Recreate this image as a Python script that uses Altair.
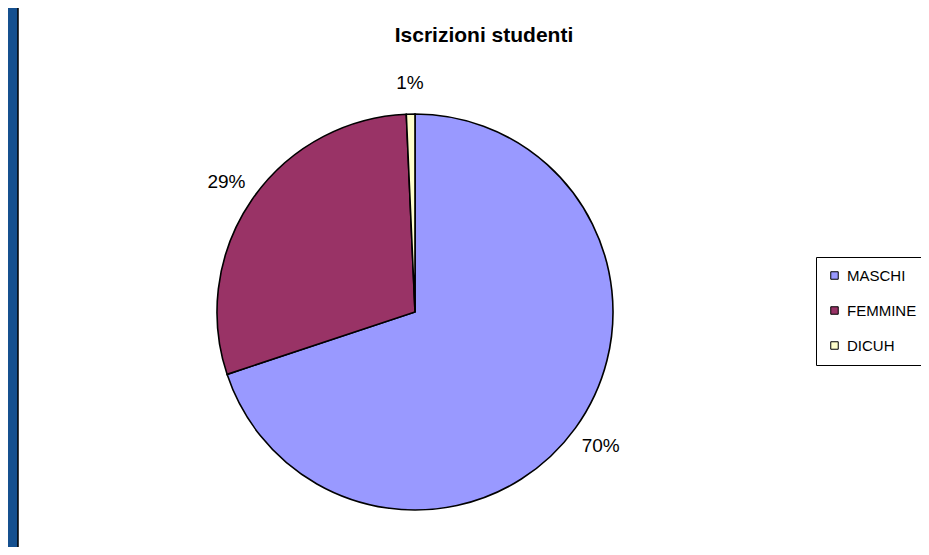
import altair as alt
import pandas as pd

categories = ["MASCHI", "FEMMINE", "DICUH"]
shares = [0.699, 0.294, 0.007]
colors = ["#9999FF", "#993366", "#FFFFCC"]
title_text = "Iscrizioni studenti"

df = pd.DataFrame({"category": categories, "value": shares, "idx": list(range(len(categories)))})

W, H = 913, 539
CX, CY = 407, 304  # pie centre in chart coordinates

panel = alt.Chart(pd.DataFrame({"a": [0]})).mark_rect(
    fill="white", stroke="black", strokeWidth=1.5
).encode(
    x=alt.value(10), x2=alt.value(W + 20), y=alt.value(-4), y2=alt.value(H + 20)
)

base = alt.Chart(df).encode(
    theta=alt.Theta("value:Q", stack=True),
    order=alt.Order("idx:Q"),
    x=alt.value(CX),
    y=alt.value(CY),
)

pie = base.mark_arc(outerRadius=198, stroke="black", strokeWidth=1.6).encode(
    color=alt.Color(
        "category:N",
        scale=alt.Scale(domain=categories, range=colors),
        sort=categories,
        legend=alt.Legend(
            title=None,
            orient="none",
            legendX=808,
            legendY=249,
            strokeColor="black",
            padding=11,
            symbolType="square",
            symbolSize=56,
            symbolStrokeColor="black",
            symbolStrokeWidth=1,
            symbolOpacity=1,
            labelFont="Liberation Sans",
            labelFontSize=15,
            labelColor="black",
            labelOffset=5,
            labelLimit=200,
            rowPadding=19,
            fillColor="white",
        ),
    )
)

labels = base.mark_text(
    radius=229, fontSize=19, font="Liberation Sans", color="black"
).encode(text=alt.Text("value:Q", format=".0%"))

title = alt.Chart(pd.DataFrame({"t": [title_text]})).mark_text(
    align="center", baseline="alphabetic", fontSize=21, fontWeight="bold",
    font="Liberation Sans", color="black"
).encode(x=alt.value(476), y=alt.value(34), text="t:N")

chart = alt.layer(panel, pie, labels, title).properties(
    width=W, height=H, autosize=alt.AutoSizeParams(type="none"), padding=0,
    background="#15508f"
).configure_view(stroke=None)

chart.save("out.html", embed_options={"renderer": "svg", "actions": False})
